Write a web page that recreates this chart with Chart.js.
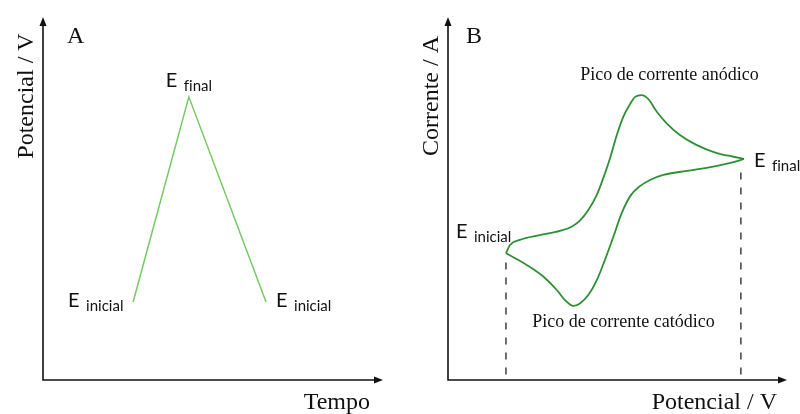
<!DOCTYPE html>
<html>
<head>
<meta charset="utf-8">
<script src="https://cdn.jsdelivr.net/npm/chart.js@4"></script>
<style>
  body { margin: 0; background: #fff; }
  .wrap { display: flex; width: 800px; height: 414px; }
  .box { position: relative; width: 400px; height: 414px; }
</style>
</head>
<body>
<div class="wrap">
  <div class="box"><canvas id="chartA"></canvas></div>
  <div class="box"><canvas id="chartB"></canvas></div>
</div>
<script>
// painel A - varredura triangular do potencial (unidades arbitrárias)
const tempoA = [2.65, 4.29, 6.56];
const potencialA = [2.15, 7.8, 2.15];

// painel B - voltamograma cíclico (unidades arbitrárias)
const potencialIda = [1.71, 1.83, 2.12, 2.71, 3.30, 3.66, 3.89, 4.13, 4.39, 4.58, 4.78, 4.98, 5.17, 5.37, 5.52, 5.71, 5.91, 6.16, 6.45, 6.84, 7.34, 7.93, 8.42, 8.73];
const correnteIda  = [3.49, 3.72, 3.86, 3.99, 4.11, 4.23, 4.39, 4.67, 5.10, 5.56, 6.11, 6.75, 7.25, 7.60, 7.80, 7.85, 7.74, 7.39, 7.07, 6.75, 6.47, 6.25, 6.15, 6.09];
const potencialVolta = [8.73, 8.42, 7.83, 7.04, 6.35, 5.96, 5.66, 5.40, 5.12, 4.88, 4.63, 4.39, 4.14, 3.89, 3.70, 3.45, 3.21, 2.81, 2.32, 1.71];
const correnteVolta  = [6.09, 6.00, 5.88, 5.76, 5.65, 5.51, 5.34, 5.10, 4.59, 3.95, 3.31, 2.75, 2.34, 2.11, 2.04, 2.20, 2.48, 2.85, 3.17, 3.49];

// linhas tracejadas em E inicial e E final
const tracejadoInicialX = [1.71, 1.71];
const tracejadoInicialY = [0.15, 3.28];
const tracejadoFinalX = [8.64, 8.64];
const tracejadoFinalY = [0.15, 5.73];

const toPoints = (xs, ys) => xs.map((x, i) => ({ x: x, y: ys[i] }));

const SERIF = '"Liberation Serif", "Times New Roman", serif';
const SANS = 'Lato, "Open Sans", sans-serif';

// desenha os eixos com setas
const axesPlugin = {
    id: 'axesArrows',
    afterDraw(chart) {
        const { ctx, chartArea: a } = chart;
        ctx.save();
        ctx.strokeStyle = '#111';
        ctx.fillStyle = '#111';
        ctx.lineWidth = 1.6;
        ctx.beginPath();
        ctx.moveTo(a.left, a.top + 6);
        ctx.lineTo(a.left, a.bottom);
        ctx.lineTo(a.right - 6, a.bottom);
        ctx.stroke();
        // seta vertical
        ctx.beginPath();
        ctx.moveTo(a.left, a.top);
        ctx.lineTo(a.left - 3.5, a.top + 9);
        ctx.lineTo(a.left + 3.5, a.top + 9);
        ctx.closePath();
        ctx.fill();
        // seta horizontal
        ctx.beginPath();
        ctx.moveTo(a.right, a.bottom);
        ctx.lineTo(a.right - 9, a.bottom - 3.5);
        ctx.lineTo(a.right - 9, a.bottom + 3.5);
        ctx.closePath();
        ctx.fill();
        ctx.restore();
    }
};

// textos: títulos dos eixos, letra do painel, rótulos E e picos
const textPlugin = {
    id: 'textos',
    afterDraw(chart, args, opts) {
        const { ctx, chartArea: a } = chart;
        const sx = chart.scales.x, sy = chart.scales.y;
        ctx.save();
        ctx.fillStyle = '#111';
        ctx.textBaseline = 'alphabetic';
        ctx.textRendering = 'optimizeSpeed'; // sem ligaduras (fi)

        // letra do painel
        ctx.font = '24px ' + SERIF;
        ctx.textAlign = 'left';
        ctx.fillText(opts.letter, a.left + opts.letterDx, a.top + 26);

        // título eixo x
        ctx.textAlign = 'right';
        ctx.fillText(opts.xTitle, a.right - opts.xTitleDx, a.bottom + 29);

        // título eixo y (rotacionado)
        ctx.save();
        ctx.translate(a.left - 10, a.top + 79);
        ctx.rotate(-Math.PI / 2);
        ctx.textAlign = 'center';
        ctx.fillText(opts.yTitle, 0, 0);
        ctx.restore();

        // rótulos E com subscrito
        ctx.textAlign = 'left';
        opts.eLabels.forEach(l => {
            const px = sx.getPixelForValue(l.at[0]) + l.dx;
            const py = sy.getPixelForValue(l.at[1]) + l.dy;
            ctx.font = '20px ' + SANS;
            ctx.fillText('E', px, py);
            ctx.font = '15px ' + SANS;
            ctx.fillText(l.sub, px + 18, py + 4);
        });

        // rótulos dos picos
        ctx.font = '18px ' + SERIF;
        ctx.textAlign = 'center';
        (opts.notes || []).forEach(n => {
            const px = sx.getPixelForValue(n.at[0]) + n.dx;
            const py = sy.getPixelForValue(n.at[1]) + n.dy;
            ctx.fillText(n.text, px, py);
        });
        ctx.restore();
    }
};

const hiddenScales = {
    x: { type: 'linear', min: 0, max: 10, display: false },
    y: { type: 'linear', min: 0, max: 10, display: false }
};

new Chart(document.getElementById('chartA'), {
    type: 'line',
    data: {
        datasets: [{
            data: toPoints(tempoA, potencialA),
            borderColor: '#76c866',
            borderWidth: 1.5,
            pointRadius: 0,
            tension: 0
        }]
    },
    options: {
        responsive: true,
        maintainAspectRatio: false,
        animation: false,
        layout: { padding: { left: 43, top: 17, right: 17, bottom: 34 } },
        scales: hiddenScales,
        plugins: {
            legend: { display: false },
            tooltip: { enabled: false },
            textos: {
                letter: 'A', letterDx: 24,
                xTitle: 'Tempo', xTitleDx: 13,
                yTitle: 'Potencial / V',
                eLabels: [
                    { sub: 'inicial', at: [tempoA[0], potencialA[0]], dx: -65, dy: 5 },
                    { sub: 'final', at: [tempoA[1], potencialA[1]], dx: -23, dy: -10 },
                    { sub: 'inicial', at: [tempoA[2], potencialA[2]], dx: 10, dy: 5 }
                ]
            }
        }
    },
    plugins: [axesPlugin, textPlugin]
});

// ida e volta são monotônicas em x, então a interpolação monotônica fica suave
const cvLine = {
    borderColor: '#2f8f35',
    borderWidth: 1.8,
    pointRadius: 0,
    cubicInterpolationMode: 'monotone'
};
const dashLine = {
    borderColor: '#222',
    borderWidth: 1.3,
    borderDash: [7, 8],
    pointRadius: 0,
    tension: 0
};

new Chart(document.getElementById('chartB'), {
    type: 'line',
    data: {
        datasets: [
            Object.assign({ data: toPoints(potencialIda, correnteIda) }, cvLine),
            Object.assign({ data: toPoints(potencialVolta, correnteVolta) }, cvLine),
            Object.assign({ data: toPoints(tracejadoInicialX, tracejadoInicialY) }, dashLine),
            Object.assign({ data: toPoints(tracejadoFinalX, tracejadoFinalY) }, dashLine)
        ]
    },
    options: {
        responsive: true,
        maintainAspectRatio: false,
        animation: false,
        layout: { padding: { left: 48, top: 17, right: 13, bottom: 34 } },
        scales: hiddenScales,
        plugins: {
            legend: { display: false },
            tooltip: { enabled: false },
            textos: {
                letter: 'B', letterDx: 18,
                xTitle: 'Potencial / V', xTitleDx: 10,
                yTitle: 'Corrente / A',
                eLabels: [
                    { sub: 'inicial', at: [potencialIda[0], correnteIda[0]], dx: -50, dy: -15 },
                    { sub: 'final', at: [potencialVolta[0], correnteVolta[0]], dx: 10, dy: 8 }
                ],
                notes: [
                    { text: 'Pico de corrente anódico', at: [potencialIda[15], correnteIda[15]], dx: 28, dy: -15 },
                    { text: 'Pico de corrente catódico', at: [potencialVolta[14], correnteVolta[14]], dx: 50, dy: 21 }
                ]
            }
        }
    },
    plugins: [axesPlugin, textPlugin]
});
</script>
</body>
</html>
